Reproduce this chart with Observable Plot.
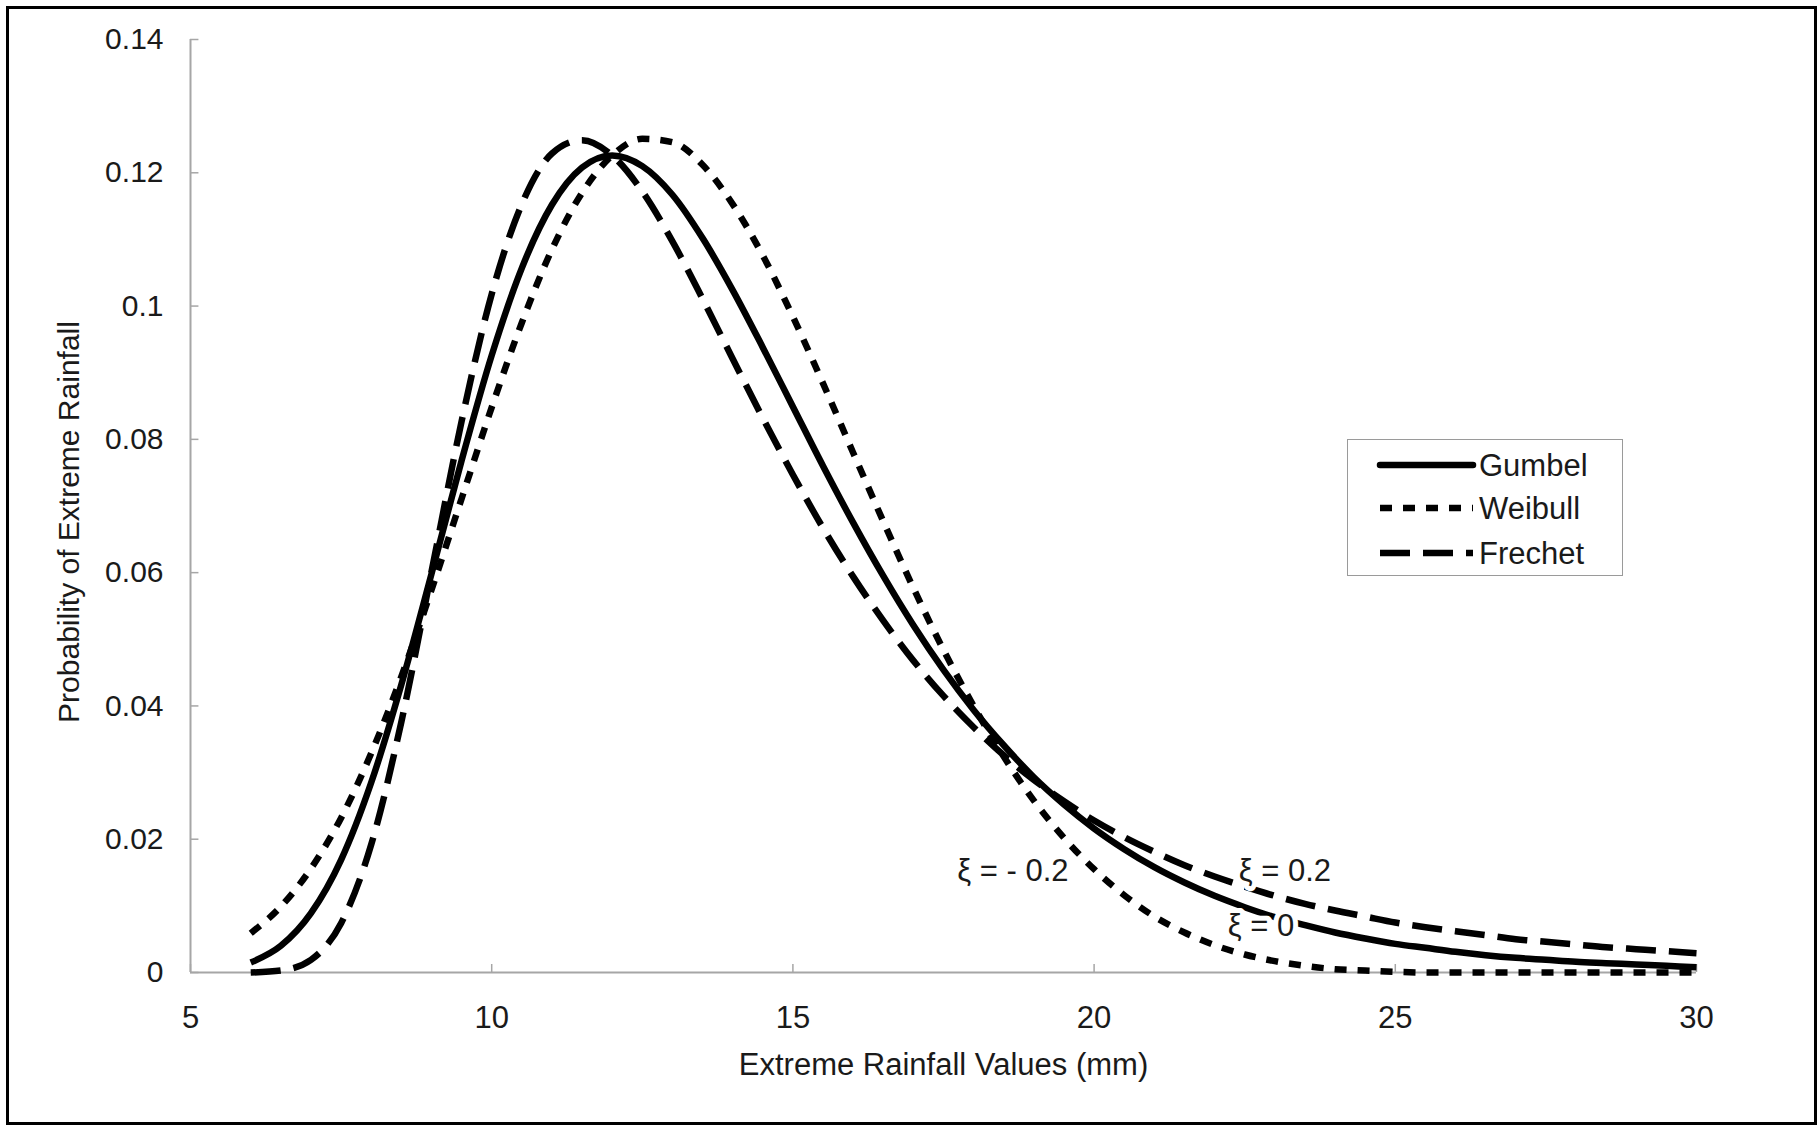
<!DOCTYPE html>
<html>
<head>
<meta charset="utf-8">
<script src="https://cdn.jsdelivr.net/npm/d3@7"></script>
<script src="https://cdn.jsdelivr.net/npm/@observablehq/plot@0.6"></script>
<style>
  html, body { margin: 0; padding: 0; background: #fff; }
  #wrap { position: relative; width: 1820px; height: 1128px; font-family: "Liberation Sans", Arial, sans-serif; }
  #border { position: absolute; left: 6px; top: 6px; width: 1805px; height: 1113px; border: 3px solid #000; pointer-events: none; }
  #legend { position: absolute; left: 1347px; top: 439px; width: 276px; height: 137px; border: 1.5px solid #9a9a9a; background: #fff; box-sizing: border-box; }
</style>
</head>
<body>
<div id="wrap">
  <div id="chart"></div>
  <div id="legend"></div>
  <div id="border"></div>
</div>
<script>
// ---- data ----
const xValues = [6, 6.5, 7, 7.5, 8, 8.5, 9, 9.5, 10, 10.5, 11, 11.5, 12, 12.5, 13, 13.5, 14, 14.5, 15, 15.5,
  16, 16.5, 17, 17.5, 18, 18.5, 19, 19.5, 20, 20.5, 21, 21.5, 22, 22.5, 23, 23.5, 24, 24.5, 25, 25.5,
  26, 26.5, 27, 27.5, 28, 28.5, 29, 29.5, 30];

const gumbel = [0.0015, 0.0040, 0.0089, 0.0169, 0.0285, 0.0432, 0.0598, 0.0768, 0.0926, 0.1057,
  0.1152, 0.1208, 0.1226, 0.1210, 0.1167, 0.1102, 0.1024, 0.0938, 0.0849, 0.0760,
  0.0675, 0.0595, 0.0521, 0.0454, 0.0394, 0.0341, 0.0293, 0.0252, 0.0216, 0.0185,
  0.0158, 0.0135, 0.0115, 0.0098, 0.0083, 0.0071, 0.0060, 0.0051, 0.0043, 0.0037,
  0.0031, 0.0026, 0.0022, 0.0019, 0.0016, 0.0014, 0.0012, 0.0010, 0.0008];

const weibull = [0.0059, 0.0099, 0.0156, 0.0232, 0.0329, 0.0444, 0.0574, 0.0711, 0.0848, 0.0975,
  0.1085, 0.1170, 0.1226, 0.1251, 0.1246, 0.1212, 0.1153, 0.1076, 0.0984, 0.0884,
  0.0780, 0.0677, 0.0577, 0.0484, 0.0400, 0.0324, 0.0258, 0.0202, 0.0155, 0.0116,
  0.0084, 0.0060, 0.0041, 0.0027, 0.0017, 0.0010, 0.0005, 0.0003, 0.0001, 0.0000,
  0, 0, 0, 0, 0, 0, 0, 0, 0];

const frechet = [0.0000, 0.0003, 0.0019, 0.0074, 0.0192, 0.0376, 0.0601, 0.0827, 0.1018, 0.1153,
  0.1229, 0.1249, 0.1226, 0.1172, 0.1097, 0.1011, 0.0921, 0.0832, 0.0747, 0.0667,
  0.0594, 0.0528, 0.0468, 0.0415, 0.0368, 0.0326, 0.0289, 0.0257, 0.0228, 0.0203,
  0.0181, 0.0161, 0.0144, 0.0129, 0.0115, 0.0103, 0.0093, 0.0084, 0.0075, 0.0068,
  0.0062, 0.0056, 0.0050, 0.0046, 0.0042, 0.0038, 0.0035, 0.0032, 0.0029];

const seriesNames = ["Gumbel", "Weibull", "Frechet"];
const xTicks = [5, 10, 15, 20, 25, 30];
const yTicks = [0, 0.02, 0.04, 0.06, 0.08, 0.1, 0.12, 0.14];
const yTickLabels = ["0", "0.02", "0.04", "0.06", "0.08", "0.1", "0.12", "0.14"];
const xTitle = "Extreme Rainfall Values (mm)";
const yTitle = "Probability of Extreme Rainfall";
const annoText = ["ξ = - 0.2", "ξ = 0.2", "ξ = 0"];
const annoX = [17.73, 22.40, 22.22];
const annoY = [0.0152, 0.0152, 0.0069];

// ---- build tables ----
const seriesValues = [gumbel, weibull, frechet];
const rows = seriesNames.map((name, s) => xValues.map((x, i) => ({x, v: seriesValues[s][i], series: name})));
const styles = {
  Gumbel: {dash: null},
  Weibull: {dash: "12 11"},
  Frechet: {dash: "30 13"}
};
const annos = annoText.map((t, i) => ({t, x: annoX[i], y: annoY[i]}));
const axisGray = "#a6a6a6";
const font = "'Liberation Sans', Arial, sans-serif";

const lineMark = (name) => Plot.line(rows[seriesNames.indexOf(name)], {
  x: "x", y: "v", stroke: "#000", strokeWidth: 6.5, curve: "monotone-x",
  strokeDasharray: styles[name].dash, strokeLinecap: "butt", strokeLinejoin: "round"
});

const chart = Plot.plot({
  width: 1820,
  height: 1128,
  marginLeft: 190,
  marginRight: 124,
  marginTop: 39,
  marginBottom: 156,
  style: {fontFamily: font, color: "#111", background: "transparent", overflow: "visible"},
  x: {domain: [5, 30]},
  y: {domain: [0, 0.14]},
  marks: [
    Plot.ruleY([0], {stroke: axisGray, strokeWidth: 2}),
    Plot.ruleX([5], {stroke: axisGray, strokeWidth: 2}),
    Plot.ruleX(xTicks, {x: d => d, y1: 0, y2: 0.0012, stroke: axisGray, strokeWidth: 1.5}),
    Plot.ruleY(yTicks, {y: d => d, x1: 5, x2: 5.14, stroke: axisGray, strokeWidth: 1.5}),
    Plot.axisX({ticks: xTicks, tickSize: 0, tickPadding: 33, fontSize: 31, label: null, fill: "#1a1a1a"}),
    Plot.axisY({ticks: yTicks, tickSize: 0, tickPadding: 27, fontSize: 30, label: null, fill: "#1a1a1a",
      tickFormat: d => yTickLabels[yTicks.indexOf(d)]}),
    Plot.text([xTitle], {frameAnchor: "bottom", dy: 93, text: d => d, fontSize: 31, fill: "#1a1a1a",
      textAnchor: "middle", lineAnchor: "middle"}),
    Plot.text([yTitle], {frameAnchor: "left", dx: -121, dy: 16, rotate: -90, text: d => d, fontSize: 30,
      fill: "#1a1a1a", textAnchor: "middle", lineAnchor: "middle"}),
    lineMark("Gumbel"),
    lineMark("Weibull"),
    lineMark("Frechet"),
    Plot.text(annos, {x: "x", y: "y", text: "t", textAnchor: "start", lineAnchor: "middle", fontSize: 31,
      fill: "#1a1a1a", stroke: "#fff", strokeWidth: 10, paintOrder: "stroke"})
  ]
});
document.getElementById("chart").appendChild(chart);

// ---- legend ----
const lg = d3.select("#legend").append("svg").attr("width", 273).attr("height", 134)
  .style("display", "block");
const rowY = [25, 68, 113];
seriesNames.forEach((name, i) => {
  lg.append("line").attr("x1", 32).attr("x2", 125).attr("y1", rowY[i]).attr("y2", rowY[i])
    .attr("stroke", "#000").attr("stroke-width", 6.5)
    .attr("stroke-linecap", name === "Gumbel" ? "round" : "butt")
    .attr("stroke-dasharray", styles[name].dash);
  lg.append("text").attr("x", 131).attr("y", rowY[i]).attr("dy", "0.35em")
    .attr("font-family", font).attr("font-size", 31).attr("fill", "#1a1a1a").text(name);
});
</script>
</body>
</html>
